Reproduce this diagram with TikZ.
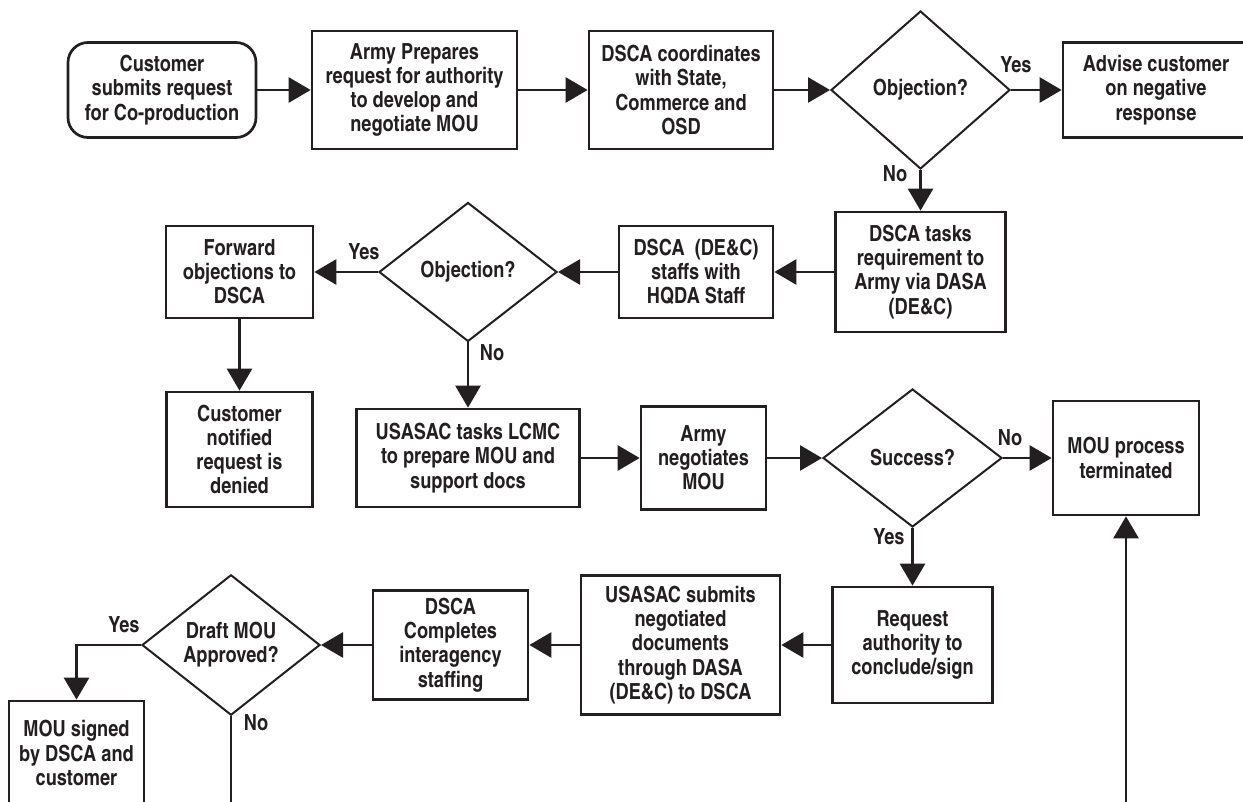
\documentclass[tikz,border=0pt]{standalone}
\usepackage{fontspec}
\setmainfont{texgyreheroscn-bold.otf}
\usetikzlibrary{arrows.meta,shapes.geometric}
\definecolor{ink}{HTML}{231F20}
\begin{document}
\begin{tikzpicture}[x=0.5pt,y=-0.5pt,
  font=\fontsize{11.1}{12.1}\selectfont,
  box/.style={draw=ink, line width=1.35pt, rectangle, align=center, inner sep=0pt, text=ink},
  rbox/.style={box, rounded corners=10pt},
  dec/.style={draw=ink, line width=1pt, diamond, align=center, inner sep=0pt, text=ink},
  lbl/.style={inner sep=0pt, text=ink},
  conn/.style={draw=ink, line width=1.35pt, -{Triangle[length=11pt,width=12.5pt]}},
  link/.style={draw=ink, line width=1.35pt}]
\useasboundingbox (0,0) rectangle (1243,802);
\clip (0,0) rectangle (1243,802);

% row 1
\node[rbox, minimum width=94pt, minimum height=47.5pt] (cust) at (162,90) {Customer\\submits request\\for Co-production};
\node[box, minimum width=102.5pt, minimum height=59pt] (army) at (414.5,90) {Army Prepares\\request for authority\\to develop and\\negotiate MOU};
\node[box, minimum width=92pt, minimum height=59pt] (dscac) at (681,90) {DSCA coordinates\\with State,\\Commerce and\\OSD};
\node[dec, minimum width=89.5pt, minimum height=79pt] (obj1) at (920.5,90) {Objection?};
\node[box, minimum width=93pt, minimum height=47.5pt] (advise) at (1156,90) {Advise customer\\on negative\\response};

% row 2
\node[box, minimum width=85pt, minimum height=60pt] (tasks) at (920.5,272) {DSCA tasks\\requirement to\\Army via DASA\\(DE\&C)};
\node[box, minimum width=77pt, minimum height=46pt] (staffs) at (696,272) {DSCA~~(DE\&C)\\staffs with\\HQDA Staff};
\node[dec, minimum width=89pt, minimum height=69.5pt] (obj2) at (468,272) {Objection?};
\node[box, minimum width=73.5pt, minimum height=46pt] (fwd) at (239.5,272) {Forward\\objections to\\DSCA};

% row 3
\node[box, minimum width=73pt, minimum height=57.5pt] (notified) at (239.5,449.5) {Customer\\notified\\request is\\denied};
\node[box, minimum width=111.5pt, minimum height=49pt] (usasac) at (468,458) {USASAC tasks LCMC\\to prepare MOU and\\support docs};
\node[box, minimum width=62.5pt, minimum height=51.5pt] (neg) at (703.5,458) {Army\\negotiates\\MOU};
\node[dec, minimum width=89.5pt, minimum height=69pt] (succ) at (912.5,458) {Success?};
\node[box, minimum width=73pt, minimum height=57pt] (term) at (1126,458) {MOU process\\terminated};

% row 4
\node[box, minimum width=80pt, minimum height=58pt] (req) at (912.5,645) {Request\\authority to\\conclude/sign};
\node[box, minimum width=99.5pt, minimum height=69.5pt] (submits) at (680.5,645) {USASAC submits\\negotiated\\documents\\through DASA\\(DE\&C) to DSCA};
\node[box, minimum width=77.5pt, minimum height=54.5pt] (completes) at (450.5,645) {DSCA\\Completes\\interagency\\staffing};
\node[dec, minimum width=89pt, minimum height=69.5pt] (draft) at (231,645) {Draft MOU\\Approved?};
\node[box, minimum width=67.5pt, minimum height=52pt] (signed) at (76.5,753) {MOU signed\\by DSCA and\\customer};

\coordinate (noend) at (231,830);
\coordinate (upstart) at (1126,830);

% labels
\node[lbl] (y1) at (1016,65) {Yes};
\node[lbl] (n1) at (895,174) {No};
\node[lbl] (y2) at (364,252) {Yes};
\node[lbl] (n2) at (492,353) {No};
\node[lbl] (n3) at (1010,438) {No};
\node[lbl] (y3) at (889,537) {Yes};
\node[lbl] (y4) at (124,625) {Yes};
\node[lbl] (n4) at (256,723) {No};

% connectors
\draw[conn] (cust) -- (army);
\draw[conn] (army) -- (dscac);
\draw[conn] (dscac) -- (obj1);
\draw[conn] (obj1) -- (advise);
\draw[conn] (obj1.south) -- (tasks.north);
\draw[conn] (tasks) -- (staffs);
\draw[conn] (staffs) -- (obj2);
\draw[conn] (obj2) -- (fwd);
\draw[conn] (fwd) -- (notified);
\draw[conn] (obj2.south) -- (obj2.south |- usasac.north);
\draw[conn] (usasac) -- (neg);
\draw[conn] (neg) -- (succ);
\draw[conn] (succ) -- (term);
\draw[conn] (succ.south) -- (req.north);
\draw[conn] (req) -- (submits);
\draw[conn] (submits) -- (completes);
\draw[conn] (completes) -- (draft);
\draw[conn] (draft.west) -| (signed.north);
\draw[link] (draft.south) -- (noend);
\draw[conn] (upstart) -- (term.south);
\end{tikzpicture}
\end{document}
